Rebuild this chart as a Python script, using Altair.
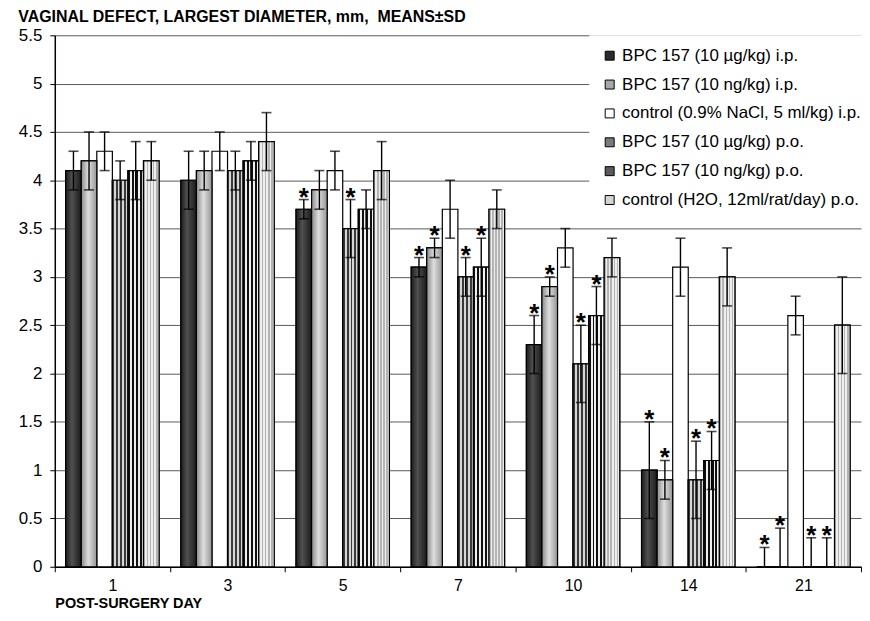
import altair as alt
import pandas as pd

days = ["1", "3", "5", "7", "10", "14", "21"]
groups = [
    "BPC 157 (10 µg/kg) i.p.",
    "BPC 157 (10 ng/kg) i.p.",
    "control (0.9% NaCl, 5 ml/kg) i.p.",
    "BPC 157 (10 µg/kg) p.o.",
    "BPC 157 (10 ng/kg) p.o.",
    "control (H2O, 12ml/rat/day) p.o.",
]

mean_ug_ip = [4.1, 4.0, 3.7, 3.1, 2.3, 1.0, 0.0]
mean_ng_ip = [4.2, 4.1, 3.9, 3.3, 2.9, 0.9, 0.0]
mean_ctrl_ip = [4.3, 4.3, 4.1, 3.7, 3.3, 3.1, 2.6]
mean_ug_po = [4.0, 4.1, 3.5, 3.0, 2.1, 0.9, 0.0]
mean_ng_po = [4.1, 4.2, 3.7, 3.1, 2.6, 1.1, 0.0]
mean_ctrl_po = [4.2, 4.4, 4.1, 3.7, 3.2, 3.0, 2.5]

sd_ug_ip = [0.2, 0.3, 0.1, 0.1, 0.3, 0.5, 0.2]
sd_ng_ip = [0.3, 0.2, 0.2, 0.1, 0.1, 0.2, 0.4]
sd_ctrl_ip = [0.2, 0.2, 0.2, 0.3, 0.2, 0.3, 0.2]
sd_ug_po = [0.2, 0.2, 0.3, 0.2, 0.4, 0.4, 0.3]
sd_ng_po = [0.3, 0.2, 0.2, 0.3, 0.3, 0.3, 0.3]
sd_ctrl_po = [0.2, 0.3, 0.3, 0.2, 0.2, 0.3, 0.5]

star_ug_ip = [0, 0, 1, 1, 1, 1, 1]
star_ng_ip = [0, 0, 0, 1, 1, 1, 1]
star_ctrl_ip = [0, 0, 0, 0, 0, 0, 0]
star_ug_po = [0, 0, 1, 1, 1, 1, 1]
star_ng_po = [0, 0, 0, 1, 1, 1, 1]
star_ctrl_po = [0, 0, 0, 0, 0, 0, 0]

means = [mean_ug_ip, mean_ng_ip, mean_ctrl_ip, mean_ug_po, mean_ng_po, mean_ctrl_po]
sds = [sd_ug_ip, sd_ng_ip, sd_ctrl_ip, sd_ug_po, sd_ng_po, sd_ctrl_po]
stars = [star_ug_ip, star_ng_ip, star_ctrl_ip, star_ug_po, star_ng_po, star_ctrl_po]

rows = []
for g, ms, ss, st in zip(groups, means, sds, stars):
    for d, m, s, k in zip(days, ms, ss, st):
        rows.append({"day": d, "group": g, "mean": m,
                     "lo": max(0.0, m - s), "hi": m + s, "star": k})
df = pd.DataFrame(rows)

FONT = "Liberation Sans"
legend_colors = ["#2a2a2a", "#a8a8a8", "#ffffff", "#7a7a7a", "#5a5a5a", "#d4d4d4"]


def smooth(stops):
    return {"gradient": "linear", "x1": 0, "y1": 0, "x2": 1, "y2": 0,
            "stops": [{"offset": o, "color": c} for o, c in stops]}


def stripes(c1, c2, n):
    st = []
    for i in range(n):
        c = c1 if i % 2 == 0 else c2
        st.append({"offset": i / n, "color": c})
        st.append({"offset": (i + 1) / n, "color": c})
    return {"gradient": "linear", "x1": 0, "y1": 0, "x2": 1, "y2": 0, "stops": st}


fills = [
    smooth([(0, "#1c1c1c"), (0.4, "#505050"), (1, "#1a1a1a")]),
    smooth([(0, "#8a8a8a"), (0.45, "#dedede"), (1, "#959595")]),
    None,
    stripes("#3a3a3a", "#d6d6d6", 8),
    stripes("#111111", "#f0f0f0", 8),
    stripes("#b4b4b4", "#eeeeee", 10),
]

x_enc = alt.X("day:N", sort=days,
              scale=alt.Scale(domain=days, paddingInner=0, paddingOuter=0),
              axis=alt.Axis(title="POST-SURGERY DAY", labelAngle=0, labelFontSize=16,
                            labelPadding=6, tickBand="extent", tickSize=5,
                            tickColor="black", domainColor="black", domainWidth=1.5,
                            titleFontSize=14.5, titleFontWeight="bold", titleAnchor="start",
                            titlePadding=3, labelColor="black", titleColor="black"))
xo_enc = alt.XOffset("group:N", sort=groups,
                     scale=alt.Scale(domain=groups, paddingInner=0, paddingOuter=0.7))
y_scale = alt.Scale(domain=[0, 5.5], nice=False)

base = alt.Chart(df).encode(x=x_enc, xOffset=xo_enc)

bars = base.mark_bar(stroke="black", strokeWidth=1.2).encode(
    y=alt.Y("mean:Q", scale=y_scale,
            axis=alt.Axis(title=None, values=[i * 0.5 for i in range(12)], format="~g",
                          labelFontSize=17, labelPadding=8, tickSize=5, tickColor="black",
                          domainColor="black", domainWidth=1.5, grid=True,
                          gridColor="#5a5a5a", gridWidth=1, labelColor="black")),
    color=alt.Color("group:N", sort=groups,
                    scale=alt.Scale(domain=groups, range=legend_colors),
                    legend=alt.Legend(title=None, orient="none", legendX=537, legendY=0,
                                      padding=12, fillColor="white", symbolType="square",
                                      symbolSize=81, symbolStrokeColor="black",
                                      symbolStrokeWidth=1, labelFontSize=17,
                                      labelLimit=320, rowPadding=11, labelOffset=4,
                                      labelColor="black")),
)

layers = [bars]
for g, f in zip(groups, fills):
    if f is None:
        continue
    layers.append(
        base.transform_filter(alt.FieldEqualPredicate(field="group", equal=g))
        .mark_bar(stroke="black", strokeWidth=1.2)
        .encode(y=alt.Y("mean:Q", scale=y_scale), color=alt.value(f))
    )

err = base.mark_rule(color="black", strokeWidth=1.4).encode(
    y=alt.Y("lo:Q", scale=y_scale), y2="hi:Q")
cap_hi = base.mark_tick(color="black", thickness=1.6, size=10).encode(
    y=alt.Y("hi:Q", scale=y_scale))
cap_lo = base.transform_filter("datum.lo > 0").mark_tick(
    color="black", thickness=1.6, size=10).encode(y=alt.Y("lo:Q", scale=y_scale))
star_txt = base.transform_filter("datum.star == 1").mark_text(
    text="*", fontSize=26, fontWeight="bold", baseline="alphabetic", dy=6,
    color="black").encode(y=alt.Y("hi:Q", scale=y_scale))

layers += [err, cap_hi, cap_lo, star_txt]

chart = alt.layer(*layers).properties(
    width=858, height=604,
    autosize=alt.AutoSizeParams(type="fit", contains="padding"),
    padding={"left": 10, "top": 0, "right": 0, "bottom": 0},
    title=alt.Title("VAGINAL DEFECT, LARGEST DIAMETER, mm, \u00a0MEANS±SD",
                    anchor="start", frame="bounds", fontSize=16, fontWeight="bold",
                    offset=1, color="black"),
).configure(font=FONT).configure_view(stroke=None)

chart.save("out.html", embed_options={"renderer": "svg", "actions": False})
